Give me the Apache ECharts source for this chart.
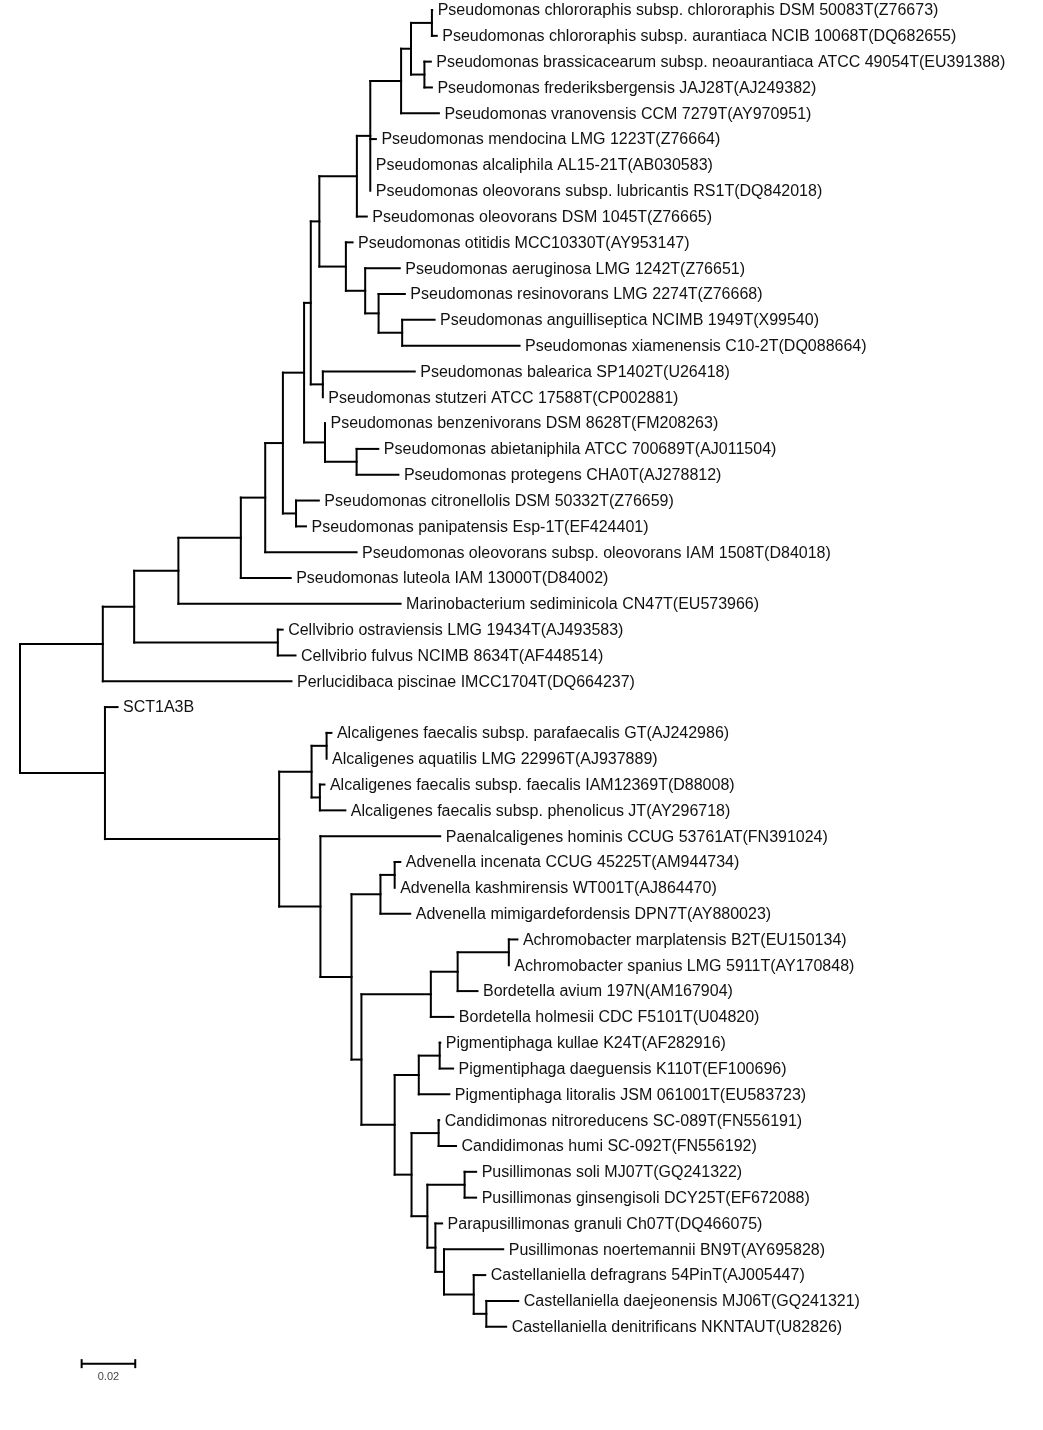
<!DOCTYPE html>
<html>
<head>
<meta charset="utf-8">
<script src="https://cdn.jsdelivr.net/npm/echarts@6/dist/echarts.min.js"></script>
<style>
html,body{margin:0;padding:0;background:#fff;}
#chart{width:1043px;height:1430px;}
</style>
</head>
<body>
<div id="chart"></div>
<script>
// ---- Data: leaves in display order (top to bottom) ----
const leafNames = [
  'Pseudomonas chlororaphis subsp. chlororaphis DSM 50083T(Z76673)',
  'Pseudomonas chlororaphis subsp. aurantiaca NCIB 10068T(DQ682655)',
  'Pseudomonas brassicacearum subsp. neoaurantiaca ATCC 49054T(EU391388)',
  'Pseudomonas frederiksbergensis JAJ28T(AJ249382)',
  'Pseudomonas vranovensis CCM 7279T(AY970951)',
  'Pseudomonas mendocina LMG 1223T(Z76664)',
  'Pseudomonas alcaliphila AL15-21T(AB030583)',
  'Pseudomonas oleovorans subsp. lubricantis RS1T(DQ842018)',
  'Pseudomonas oleovorans DSM 1045T(Z76665)',
  'Pseudomonas otitidis MCC10330T(AY953147)',
  'Pseudomonas aeruginosa LMG 1242T(Z76651)',
  'Pseudomonas resinovorans LMG 2274T(Z76668)',
  'Pseudomonas anguilliseptica NCIMB 1949T(X99540)',
  'Pseudomonas xiamenensis C10-2T(DQ088664)',
  'Pseudomonas balearica SP1402T(U26418)',
  'Pseudomonas stutzeri ATCC 17588T(CP002881)',
  'Pseudomonas benzenivorans DSM 8628T(FM208263)',
  'Pseudomonas abietaniphila ATCC 700689T(AJ011504)',
  'Pseudomonas protegens CHA0T(AJ278812)',
  'Pseudomonas citronellolis DSM 50332T(Z76659)',
  'Pseudomonas panipatensis Esp-1T(EF424401)',
  'Pseudomonas oleovorans subsp. oleovorans IAM 1508T(D84018)',
  'Pseudomonas luteola IAM 13000T(D84002)',
  'Marinobacterium sediminicola CN47T(EU573966)',
  'Cellvibrio ostraviensis LMG 19434T(AJ493583)',
  'Cellvibrio fulvus NCIMB 8634T(AF448514)',
  'Perlucidibaca piscinae IMCC1704T(DQ664237)',
  'SCT1A3B',
  'Alcaligenes faecalis subsp. parafaecalis GT(AJ242986)',
  'Alcaligenes aquatilis LMG 22996T(AJ937889)',
  'Alcaligenes faecalis subsp. faecalis IAM12369T(D88008)',
  'Alcaligenes faecalis subsp. phenolicus JT(AY296718)',
  'Paenalcaligenes hominis CCUG 53761AT(FN391024)',
  'Advenella incenata CCUG 45225T(AM944734)',
  'Advenella kashmirensis WT001T(AJ864470)',
  'Advenella mimigardefordensis DPN7T(AY880023)',
  'Achromobacter marplatensis B2T(EU150134)',
  'Achromobacter spanius LMG 5911T(AY170848)',
  'Bordetella avium 197N(AM167904)',
  'Bordetella holmesii CDC F5101T(U04820)',
  'Pigmentiphaga kullae K24T(AF282916)',
  'Pigmentiphaga daeguensis K110T(EF100696)',
  'Pigmentiphaga litoralis JSM 061001T(EU583723)',
  'Candidimonas nitroreducens SC-089T(FN556191)',
  'Candidimonas humi SC-092T(FN556192)',
  'Pusillimonas soli MJ07T(GQ241322)',
  'Pusillimonas ginsengisoli DCY25T(EF672088)',
  'Parapusillimonas granuli Ch07T(DQ466075)',
  'Pusillimonas noertemannii BN9T(AY695828)',
  'Castellaniella defragrans 54PinT(AJ005447)',
  'Castellaniella daejeonensis MJ06T(GQ241321)',
  'Castellaniella denitrificans NKNTAUT(U82826)'
];
const leafParents = [
  'A','A','B','B','D','E','E','E','F','G',
  'H','I','J','J','M','M','O','P','P','R',
  'R','S','T','U','W','W','X','Y','AB','AB',
  'AC','AC','BB','DE','DE','DD','FH','FH','FG','FF',
  'HI','HI','HH','IJ','IJ','LL','LL','MM','NN','OO',
  'OP','OP'
];
const leafBranchLengths = [
  0.0001,0.0018,0.0024,0.0028,0.0141,0.0021,0.0000,0.0000,0.0037,0.0025,
  0.0129,0.0098,0.0121,0.0438,0.0343,0.0000,0.0000,0.0081,0.0156,0.0085,
  0.0037,0.0341,0.0186,0.0829,0.0018,0.0066,0.0704,0.0047,0.0018,0.0000,
  0.0017,0.0095,0.0447,0.0021,0.0000,0.0111,0.0032,0.0000,0.0074,0.0084,
  0.0002,0.0050,0.0114,0.0002,0.0065,0.0043,0.0043,0.0025,0.0221,0.0043,
  0.0119,0.0074
];
// ---- Data: internal nodes ----
const nodeNames = [
  'root','X','Y','V','U','T','S','Q','N','L','K','F','E','D','C','A','B',
  'G','H','I','J','M','O','P','R','W',
  'Z','AA','AB','AC','BB','CC','DD','DE','EE','FF','FG','FH',
  'GG','HH','HI','II','IJ','KK','LL','MM','NN','OO','OP'
];
const nodeParents = [
  null,'root','root','X','V','U','T','S','Q','N','L','K','F','E','D','C','C',
  'K','G','H','I','L','N','O','Q','V',
  'Y','Z','AA','AA','Z','BB','CC','DD','CC','EE','FF','FG',
  'EE','GG','HH','GG','II','II','KK','KK','MM','NN','OO'
];
const nodeBranchLengths = [
  0,0.0309,0.0317,0.0117,0.0165,0.0233,0.0091,0.0066,0.0079,0.0025,0.0032,0.0140,0.0050,0.0115,0.0037,0.0078,0.0050,
  0.0099,0.0072,0.0050,0.0088,0.0045,0.0078,0.0118,0.0049,0.0536,
  0.0650,0.0121,0.0056,0.0031,0.0154,0.0116,0.0108,0.0053,0.0037,0.0259,0.0100,0.0191,
  0.0124,0.0090,0.0078,0.0063,0.0101,0.0059,0.0139,0.0030,0.0032,0.0111,0.0047
];
const scaleBarLength = 0.02;
const scaleBarLabel = '0.02';

// ---- Build tree ----
const nodes = {};
nodeNames.forEach((n, i) => { nodes[n] = { name: n, parent: nodeParents[i], len: nodeBranchLengths[i], children: [], leaf: false }; });
leafNames.forEach((n, i) => {
  nodes['leaf' + i] = { name: n, parent: leafParents[i], len: leafBranchLengths[i], children: [], leaf: true, y: i };
});
Object.keys(nodes).forEach(id => { const p = nodes[id].parent; if (p) nodes[p].children.push(id); });
function depth(id) {
  const nd = nodes[id];
  if (nd.depth !== undefined) return nd.depth;
  nd.depth = nd.parent ? depth(nd.parent) + nd.len : 0;
  return nd.depth;
}
function assignY(id) {
  const nd = nodes[id];
  if (nd.leaf) return nd.y;
  const ys = nd.children.map(assignY);
  nd.yLo = Math.min(...ys); nd.yHi = Math.max(...ys);
  nd.y = (nd.yLo + nd.yHi) / 2;
  return nd.y;
}
assignY('root');
Object.keys(nodes).forEach(depth);

const segments = [];
Object.keys(nodes).forEach(id => {
  const nd = nodes[id];
  if (nd.parent) segments.push([nodes[nd.parent].depth, nd.y, nd.depth, nd.y]);
  if (!nd.leaf) segments.push([nd.depth, nd.yLo, nd.depth, nd.yHi]);
});
const labels = leafNames.map((n, i) => [nodes['leaf' + i].depth, i, n]);

const sbX0 = 0.0230, sbY = 52.43;
const scaleData = [[sbX0, sbY, sbX0 + scaleBarLength, sbY, scaleBarLabel]];

const chart = echarts.init(document.getElementById('chart'));
chart.setOption({
  animation: false,
  backgroundColor: '#ffffff',
  grid: { left: 20, right: 0, top: 10, height: 55 * 25.824 },
  xAxis: { type: 'value', min: 0, max: 1023 / 2680, show: false },
  yAxis: { type: 'value', min: 0, max: 55, inverse: true, show: false },
  series: [
    {
      type: 'custom',
      data: segments,
      encode: { x: [0, 2], y: [1, 3] },
      renderItem: function (params, api) {
        const p1 = api.coord([api.value(0), api.value(1)]);
        const p2 = api.coord([api.value(2), api.value(3)]);
        return {
          type: 'line',
          shape: { x1: p1[0], y1: p1[1], x2: p2[0], y2: p2[1] },
          style: { stroke: '#000', lineWidth: 2, lineCap: 'square' }
        };
      }
    },
    {
      type: 'custom',
      data: labels,
      encode: { x: 0, y: 1 },
      renderItem: function (params, api) {
        const p = api.coord([api.value(0), api.value(1)]);
        return {
          type: 'text',
          x: p[0] + 5.5, y: p[1] + 1,
          style: { text: labels[params.dataIndex][2], fill: '#111', font: '16px "Liberation Sans", Arial, sans-serif', textAlign: 'left', textVerticalAlign: 'middle' }
        };
      }
    },
    {
      type: 'custom',
      data: scaleData,
      encode: { x: [0, 2], y: [1, 3] },
      renderItem: function (params, api) {
        const p1 = api.coord([api.value(0), api.value(1)]);
        const p2 = api.coord([api.value(2), api.value(3)]);
        return {
          type: 'group',
          children: [
            { type: 'line', shape: { x1: p1[0], y1: p1[1], x2: p2[0], y2: p2[1] }, style: { stroke: '#000', lineWidth: 2 } },
            { type: 'line', shape: { x1: p1[0], y1: p1[1] - 4.5, x2: p1[0], y2: p1[1] + 4.5 }, style: { stroke: '#000', lineWidth: 2 } },
            { type: 'line', shape: { x1: p2[0], y1: p2[1] - 4.5, x2: p2[0], y2: p2[1] + 4.5 }, style: { stroke: '#000', lineWidth: 2 } },
            { type: 'text', x: (p1[0] + p2[0]) / 2, y: p1[1] + 13, style: { text: scaleData[0][4], fill: '#444', font: '11px "Liberation Sans", Arial, sans-serif', textAlign: 'center', textVerticalAlign: 'middle' } }
          ]
        };
      }
    }
  ]
});
</script>
</body>
</html>
